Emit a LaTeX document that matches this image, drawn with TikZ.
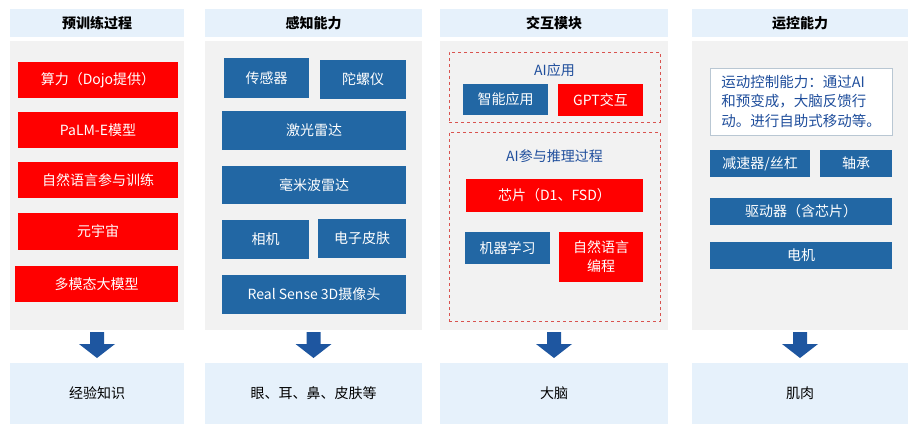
\documentclass[tikz,border=0pt]{standalone}
\usepackage{fontspec}
\setmainfont{Noto Sans CJK SC}
\begin{document}
\begin{tikzpicture}[x=1pt,y=-1pt,
 hdr/.style={fill=hdrc,draw=none,inner sep=0},
 body/.style={fill=bodyc,draw=none,inner sep=0},
 rb/.style={fill=redc,draw=none,text=white,font=\fontsize{14}{16}\selectfont,inner sep=0,align=center},
 bb/.style={fill=bluec,draw=none,text=white,font=\fontsize{14}{16}\selectfont,inner sep=0,align=center},
 dbox/.style={draw=dashc,dashed,line width=0.9pt,inner sep=0},
 arr/.style={fill=arrc,draw=none}]
\definecolor{hdrc}{HTML}{E6F1FB}
\definecolor{bodyc}{HTML}{F2F2F2}
\definecolor{redc}{HTML}{FF0000}
\definecolor{bluec}{HTML}{2267A4}
\definecolor{dashc}{HTML}{D9534F}
\definecolor{arrc}{HTML}{1E56A0}
\definecolor{lbl}{HTML}{1F4E9C}
\useasboundingbox (0,0) rectangle (913,433);
\newcommand{\bx}[6]{\node[#1,minimum width=#4-#2,minimum height=#5-#3] (#6) at ({(#2+#4)/2},{(#3+#5)/2}) {};}
\newcommand{\col}[6]{% name x1 x2 title bottomtext
 \bx{hdr}{#2}{9}{#3}{37}{#1h}
 \node[font=\bfseries\fontsize{14}{16}\selectfont] at (#1h) {#4};
 \bx{body}{#2}{41}{#3}{330}{#1b}
 \bx{hdr}{#2}{363}{#3}{424}{#1f}
 \node[font=\fontsize{14}{16}\selectfont] at (#1f) {#5};
 \fill[arrc] ({(#2+#3)/2-7},332) -- ({(#2+#3)/2+7},332) -- ({(#2+#3)/2+7},344) -- ({(#2+#3)/2+18},344) -- ({(#2+#3)/2},358) -- ({(#2+#3)/2-18},344) -- ({(#2+#3)/2-7},344) -- cycle;}
\col{a}{10}{184}{预训练过程}{经验知识}{}
\col{b}{205}{422}{感知能力}{眼、耳、鼻、皮肤等}{}
\col{c}{440}{668}{交互模块}{大脑}{}
\col{d}{692}{908}{运控能力}{肌肉}{}
% col1
\node[rb,minimum width=160,minimum height=36] (a1) at (98,80) {算力（Dojo提供）};
\node[rb,minimum width=160,minimum height=36] (a2) at (98,130) {PaLM-E模型};
\node[rb,minimum width=160,minimum height=36] (a3) at (98,180) {自然语言参与训练};
\node[rb,minimum width=160,minimum height=37] (a4) at (98,231.5) {元宇宙};
\node[rb,minimum width=163,minimum height=36] (a5) at (96.5,284) {多模态大模型};
% col2
\node[bb,minimum width=85,minimum height=40] (b1) at (266.5,78) {传感器};
\node[bb,minimum width=86,minimum height=39] (b2) at (363,79.5) {陀螺仪};
\node[bb,minimum width=184,minimum height=39] (b3) at (314,130.5) {激光雷达};
\node[bb,minimum width=184,minimum height=38] (b4) at (314,185) {毫米波雷达};
\node[bb,minimum width=87,minimum height=39] (b5) at (265.5,239.5) {相机};
\node[bb,minimum width=88,minimum height=39] (b6) at (362,238.5) {电子皮肤};
\node[bb,minimum width=184,minimum height=39] (b7) at (314,294.5) {Real Sense 3D摄像头};
% col3
\node[dbox,minimum width=211,minimum height=70] (c0) at (554.5,87) {};
\node[text=lbl,font=\fontsize{14}{16}\selectfont] (c0t) at (554.5,70) {AI应用};
\node[bb,minimum width=85,minimum height=31] (c1) at (505.5,99.5) {智能应用};
\node[rb,minimum width=85,minimum height=32] (c2) at (600.5,100) {GPT交互};
\node[dbox,minimum width=211,minimum height=189] (c9) at (554.5,226.5) {};
\node[text=lbl,font=\fontsize{14}{16}\selectfont] (c9t) at (554.5,156) {AI参与推理过程};
\node[rb,minimum width=177,minimum height=33] (c3) at (554.5,195.5) {芯片（D1、FSD）};
\node[bb,minimum width=85,minimum height=32] (c4) at (507.5,248) {机器学习};
\node[rb,minimum width=84,minimum height=50,font=\fontsize{14}{19}\selectfont] (c5) at (601,257) {自然语言\\编程};
% col4
\node[fill=white,draw=gray!50!bluec!40,line width=0.6pt,minimum width=182,minimum height=67,inner sep=0] (d0) at (801,101.5) {};
\node[text=lbl,font=\fontsize{14.5}{19.5}\selectfont,align=left] at (d0) {运动控制能力：通过AI\\和预变成，大脑反馈行\\动。进行自助式移动等。};
\node[bb,minimum width=100,minimum height=27] (d1) at (760,163.5) {减速器/丝杠};
\node[bb,minimum width=72,minimum height=27] (d2) at (856,163.5) {轴承};
\node[bb,minimum width=182,minimum height=27] (d3) at (801,211.5) {驱动器（含芯片）};
\node[bb,minimum width=182,minimum height=27] (d4) at (801,255.5) {电机};
\end{tikzpicture}
\end{document}
